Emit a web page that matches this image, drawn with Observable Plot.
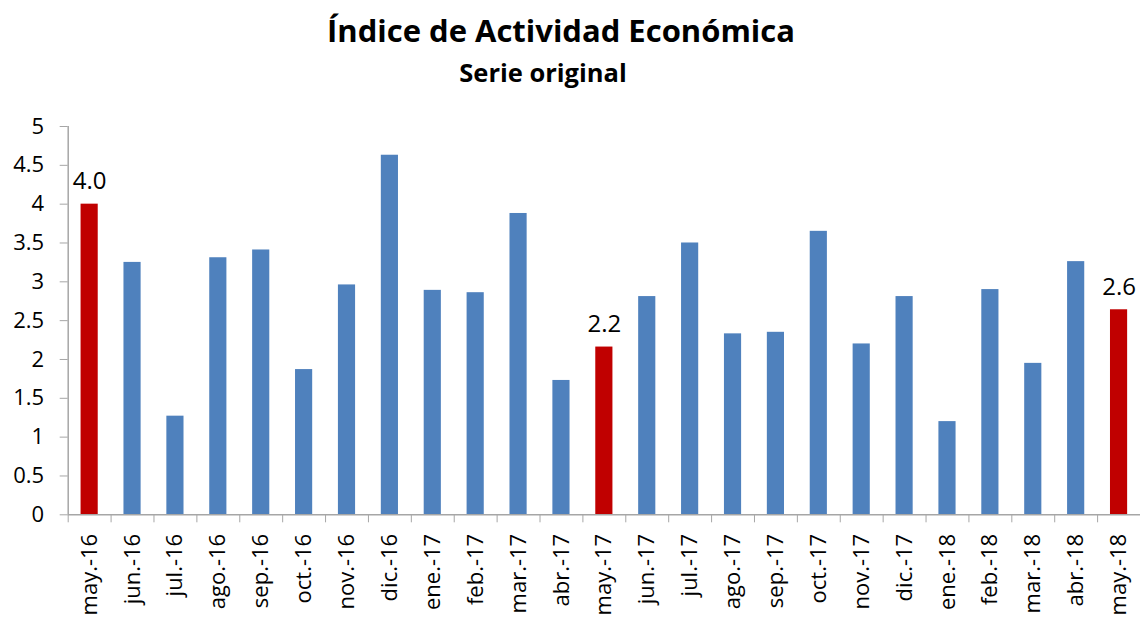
<!DOCTYPE html>
<html>
<head>
<meta charset="utf-8">
<script src="https://cdn.jsdelivr.net/npm/d3@7"></script>
<script src="https://cdn.jsdelivr.net/npm/@observablehq/plot@0.6"></script>
<style>
  html, body { margin: 0; padding: 0; background: #fff; }
  #wrap { position: relative; width: 1140px; height: 619px; overflow: hidden; font-family: "Open Sans", sans-serif; }
  .t { position: absolute; left: 0; width: 1140px; text-align: center; line-height: 1; font-weight: bold; color: #000; white-space: nowrap; }
  #title { top: 14.5px; font-size: 31px; left: -9px; }
  #subtitle { top: 59.5px; font-size: 25.5px; left: -27px; }
  #chart { position: absolute; left: 0; top: 100px; }
</style>
</head>
<body>
<div id="wrap">
  <div id="title" class="t">Índice de Actividad Económica</div>
  <div id="subtitle" class="t">Serie original</div>
  <div id="chart"></div>
</div>
<script>
const months = ["may.-16","jun.-16","jul.-16","ago.-16","sep.-16","oct.-16","nov.-16","dic.-16",
  "ene.-17","feb.-17","mar.-17","abr.-17","may.-17","jun.-17","jul.-17","ago.-17","sep.-17",
  "oct.-17","nov.-17","dic.-17","ene.-18","feb.-18","mar.-18","abr.-18","may.-18"];
const values = [4.0,3.25,1.27,3.31,3.41,1.87,2.96,4.63,2.89,2.86,3.88,1.73,2.16,2.81,3.5,2.33,2.35,3.65,2.2,2.81,1.2,2.9,1.95,3.26,2.64];
const highlighted = ["may.-16","may.-17","may.-18"];
const yTicks = [0,0.5,1,1.5,2,2.5,3,3.5,4,4.5,5];

const data = months.map((m, i) => ({month: m, value: values[i], hi: highlighted.includes(m)}));

const W = 1140, H = 519, mL = 67.7, mR = 0, mT = 26, mB = 104.7;
const step = (W - mL - mR) / months.length;
const axisGray = "#a6a6a6";

const chart = Plot.plot({
  width: W, height: H,
  marginLeft: mL, marginRight: mR, marginTop: mT, marginBottom: mB,
  style: {fontFamily: "Open Sans", fontSize: "21px", color: "#000", background: "#fff", overflow: "visible"},
  x: {domain: months, paddingInner: 0.6, paddingOuter: 0.3, round: false, label: null},
  y: {domain: [0, 5], label: null},
  marks: [
    Plot.barY(data.filter(d => !d.hi), {x: "month", y: "value", fill: "#4f81bd"}),
    Plot.barY(data.filter(d => d.hi), {x: "month", y: "value", fill: "#c00000"}),
    Plot.ruleX([months[0]], {dx: -step / 2, y1: 0, y2: 5, stroke: axisGray, strokeWidth: 1.5}),
    Plot.ruleY([0], {stroke: axisGray, strokeWidth: 1.5}),
    Plot.axisY({ticks: yTicks, tickSize: 8, tickPadding: 16, stroke: axisGray, fill: "#000", fontSize: 22, tickFormat: d => String(d), label: null}),
    Plot.axisX({tickSize: 8, tickFormat: () => "", dx: -step / 2, stroke: axisGray, label: null}),
    Plot.axisX({tickSize: 0, tickRotate: -90, tickPadding: 19, fill: "#000", fontSize: 22, label: null}),
    Plot.text(data.filter(d => d.hi), {x: "month", y: "value", text: d => d.value.toFixed(1), lineAnchor: "bottom", dy: -15, fontSize: 24, fill: "#000"})
  ]
});
document.getElementById("chart").appendChild(chart);
</script>
</body>
</html>
